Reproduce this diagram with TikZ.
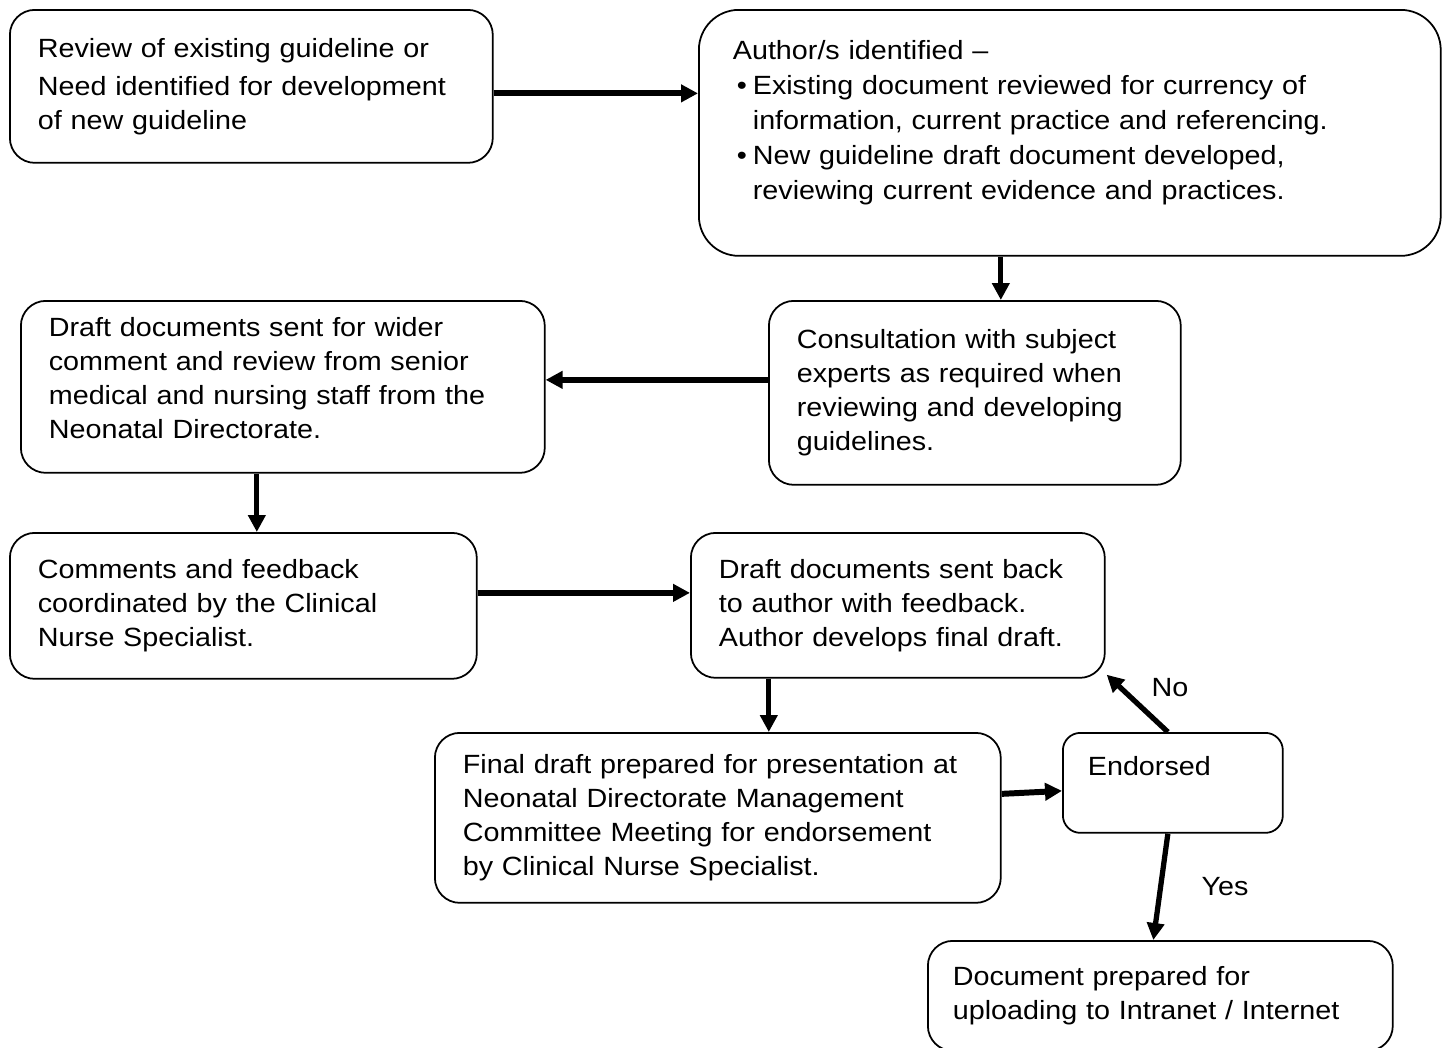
\documentclass[tikz,border=0pt]{standalone}
\usepackage{fontspec}
\setmainfont{Liberation Sans}[FakeStretch=1.09]
\usetikzlibrary{arrows.meta}
\newcommand{\puce}{\makebox[0.4cm][r]{\textbullet\hspace{0.12cm}}}

\begin{document}
\begin{tikzpicture}[x=0.02cm,y=-0.02cm]

\tikzset{boite/.style={draw,line width=1pt,rounded corners=0.5cm,anchor=north west,align=left,inner xsep=0.56cm,inner ysep=0pt,font=\fontsize{15}{19.3}\selectfont}} %style des cases
\tikzset{fleche/.style={line width=3pt,-{Triangle[length=0.34cm,width=0.34cm]}}}
\tikzset{etiquette/.style={font=\fontsize{15}{19.3}\selectfont}}

\useasboundingbox (0,0) rectangle (1448,1048);

%----------cases du haut------------
\node[boite,text width=8.54cm,minimum height=3.06cm] (revue) at (9,9) {Review of existing guideline or\\[0.08cm] Need identified for development\\ of new guideline};
\node[boite,text width=13.48cm,inner xsep=0.68cm,minimum height=4.92cm,rounded corners=0.8cm,font=\fontsize{15}{19.9}\selectfont] (auteur) at (698,9) {Author/s identified --\\ \puce Existing document reviewed for currency of\\ \hspace*{0.4cm}information, current practice and referencing.\\ \puce New guideline draft document developed,\\ \hspace*{0.4cm}reviewing current evidence and practices.\\[-0.2cm] \mbox{}};

%----------cases du milieu------------
\node[boite,text width=7.12cm,minimum height=3.68cm] (consult) at (768,300) {Consultation with subject\\ experts as required when\\ reviewing and developing\\ guidelines.};
\node[boite,text width=9.36cm,minimum height=3.44cm] (diffusion) at (20,300) {Draft documents sent for wider\\ comment and review from senior\\ medical and nursing staff from the\\ Neonatal Directorate.\\[-0.33cm] \mbox{}};
\node[boite,text width=8.22cm,minimum height=2.92cm] (commentaires) at (9,532) {Comments and feedback\\ coordinated by the Clinical\\ Nurse Specialist.};
\node[boite,text width=7.16cm,minimum height=2.9cm] (retour) at (690,532) {Draft documents sent back\\ to author with feedback.\\ Author develops final draft.};

%----------cases du bas------------
\node[boite,text width=10.2cm,minimum height=3.4cm] (final) at (434,732) {Final draft prepared for presentation at\\ Neonatal Directorate Management\\ Committee Meeting for endorsement\\ by Clinical Nurse Specialist.};
\node[boite,text width=3.4cm,inner xsep=0.5cm,minimum height=2cm,rounded corners=0.35cm] (valide) at (1062,732) {Endorsed\\ \mbox{}};
\node[boite,text width=8.3cm,inner xsep=0.5cm,minimum height=2.2cm] (publie) at (927,940) {Document prepared for\\ uploading to Intranet / Internet};

%----------fleches------------
\coordinate (ra) at ([yshift=-0.14cm]revue.east);
\draw[fleche,line width=3.4pt] (ra) -- (ra -| auteur.west);

\coordinate (ac) at ([xshift=0.52cm]consult.north);
\draw[fleche] (ac |- auteur.south) -- (ac);

\coordinate (cd) at ([yshift=0.26cm]consult.west);
\draw[fleche] (cd) -- (cd -| diffusion.east);

\coordinate (dc) at ([xshift=-0.52cm]diffusion.south);
\draw[fleche] (dc) -- (dc |- commentaires.north);

\coordinate (cr) at ([yshift=0.26cm]commentaires.east);
\draw[fleche] (cr) -- (cr -| retour.west);

\coordinate (rf) at ([xshift=1.02cm]final.north);
\draw[fleche] (rf |- retour.south) -- (rf);

\draw[fleche,line width=3.4pt] ([yshift=0.48cm]final.east) -- ([yshift=-0.16cm]valide.west);

%non / oui
\draw[fleche] ([xshift=-0.1cm]valide.north) -- ([xshift=0.02cm,yshift=0.08cm]retour.south east);
\node[etiquette] (non) at (1170,688) {No};
\draw[fleche] ([xshift=-0.1cm]valide.south) -- ([xshift=-0.14cm]publie.north);
\node[etiquette] (oui) at (1225,887) {Yes};

\end{tikzpicture}
\end{document}
